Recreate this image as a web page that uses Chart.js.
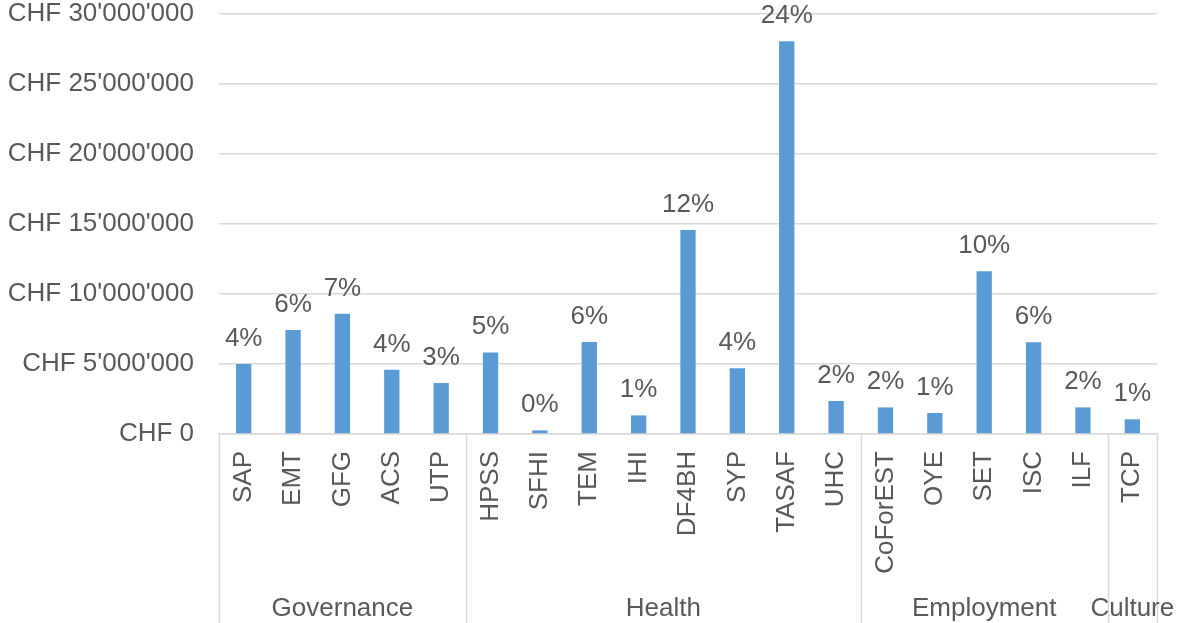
<!DOCTYPE html>
<html>
<head>
<meta charset="utf-8">
<script src="https://cdn.jsdelivr.net/npm/chart.js@4"></script>
<style>
  html, body { margin: 0; padding: 0; background: #fff; }
  #wrap { width: 1177px; height: 623px; }
</style>
</head>
<body>
<div id="wrap"><canvas id="myChart" width="1177" height="623"></canvas></div>
<script>
// programmes, amounts in CHF
const programmes = ['SAP', 'EMT', 'GFG', 'ACS', 'UTP',
  'HPSS', 'SFHI', 'TEM', 'IHI', 'DF4BH', 'SYP', 'TASAF', 'UHC',
  'CoForEST', 'OYE', 'SET', 'ISC', 'ILF',
  'TCP'];
const amounts = [5000000, 7430000, 8590000, 4590000, 3640000,
  5830000, 260000, 6570000, 1330000, 14570000, 4690000, 28050000, 2360000,
  1900000, 1500000, 11620000, 6550000, 1900000,
  1050000];
const groupNames = ['Governance', 'Health', 'Employment', 'Culture'];
const groupSizes = [5, 8, 5, 1];

const textColor = '#595959';
const lineColor = '#d9d9d9';
const fontFamily = '"Liberation Sans", Arial, sans-serif';

const total = amounts.reduce((a, b) => a + b, 0);

const chf = (v) => 'CHF ' + String(v).replace(/\B(?=(\d{3})+(?!\d))/g, "'");

// percentage share above each bar
const shareLabels = {
  id: 'shareLabels',
  afterDatasetsDraw(chart) {
    const ctx = chart.ctx;
    const meta = chart.getDatasetMeta(0);
    ctx.save();
    ctx.font = '26px ' + fontFamily;
    ctx.fillStyle = textColor;
    ctx.textAlign = 'center';
    ctx.textBaseline = 'alphabetic';
    meta.data.forEach((bar, i) => {
      const pct = Math.round(amounts[i] / total * 100) + '%';
      ctx.fillText(pct, bar.x, bar.y - 18);
    });
    ctx.restore();
  }
};

// group separators and group names under the programme labels
const groupAxis = {
  id: 'groupAxis',
  afterDraw(chart) {
    const ctx = chart.ctx;
    const x = chart.scales.x;
    const top = chart.chartArea.bottom;
    const bottom = chart.height;
    ctx.save();
    ctx.strokeStyle = lineColor;
    ctx.lineWidth = 1.5;
    let start = 0;
    const edges = [0];
    groupSizes.forEach(n => { start += n; edges.push(start); });
    edges.forEach(b => {
      const px = Math.round(x.getPixelForValue(b - 0.5)) + 0.5;
      ctx.beginPath();
      ctx.moveTo(px, top);
      ctx.lineTo(px, bottom);
      ctx.stroke();
    });
    ctx.font = '26px ' + fontFamily;
    ctx.fillStyle = textColor;
    ctx.textAlign = 'center';
    ctx.textBaseline = 'middle';
    groupNames.forEach((name, i) => {
      const a = x.getPixelForValue(edges[i] - 0.5);
      const b = x.getPixelForValue(edges[i + 1] - 0.5);
      ctx.fillText(name, (a + b) / 2, 609);
    });
    ctx.restore();
  }
};

const ctx = document.getElementById('myChart');

new Chart(ctx, {
  type: 'bar',
  data: {
    labels: programmes,
    datasets: [{
      data: amounts,
      backgroundColor: '#5B9BD5',
      borderWidth: 0,
      barPercentage: 0.31,
      categoryPercentage: 1
    }]
  },
  options: {
    responsive: false,
    animation: false,
    layout: { padding: { top: 14, right: 20, left: 0, bottom: 0 } },
    plugins: {
      legend: { display: false },
      tooltip: { enabled: false }
    },
    scales: {
      x: {
        grid: { display: false, drawTicks: false },
        border: { display: true, color: lineColor, width: 1.5 },
        ticks: {
          autoSkip: false,
          minRotation: 90,
          maxRotation: 90,
          padding: 17,
          color: textColor,
          font: { family: fontFamily, size: 26 }
        },
        afterFit(scale) {
          scale.height = 189;
          scale.paddingLeft = 0;
          scale.paddingRight = 0;
        }
      },
      y: {
        min: 0,
        max: 30000000,
        grid: { color: lineColor, lineWidth: 1.5, drawTicks: false },
        border: { display: false },
        ticks: {
          stepSize: 5000000,
          padding: 25,
          color: textColor,
          font: { family: fontFamily, size: 26, lineHeight: 1 },
          callback: (v) => chf(v)
        },
        afterFit(scale) {
          scale.width = 219;
          scale.paddingTop = 0;
          scale.paddingBottom = 0;
        }
      }
    }
  },
  plugins: [shareLabels, groupAxis]
});
</script>
</body>
</html>
